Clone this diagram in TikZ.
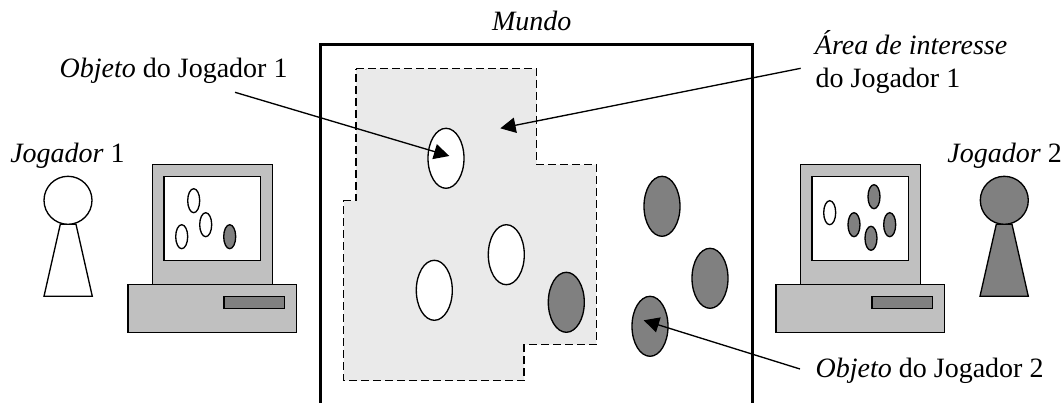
\documentclass[tikz,border=0pt]{standalone}
\usepackage{fontspec}
\setmainfont{Liberation Serif}
\usetikzlibrary{arrows.meta,shapes.geometric}
\definecolor{boxgray}{HTML}{C0C0C0}
\definecolor{objgray}{HTML}{808080}
\definecolor{areagray}{HTML}{EAEAEA}
\tikzstyle{obj}=[shape=ellipse,
                draw=black,
                line width=1pt,
                inner sep=0pt,
                minimum width=27pt,
                minimum height=45pt]
\tikzstyle{mini}=[shape=ellipse,
                draw=black,
                line width=1pt,
                inner sep=0pt,
                minimum width=9pt,
                minimum height=18pt]
\tikzstyle{part}=[shape=rectangle,
                draw=black,
                line width=1pt,
                fill=boxgray,
                inner sep=0pt]
\tikzstyle{head}=[shape=circle,
                draw=black,
                line width=1pt,
                inner sep=0pt,
                minimum size=36pt]
\tikzstyle{lbl}=[anchor=base west,inner sep=0pt,font=\fontsize{21pt}{24.5pt}\selectfont]
\tikzstyle{pawn}=[draw=black,line width=1pt]

\begin{document}
\begin{tikzpicture}[x=0.75pt,y=-0.75pt,>={Triangle[length=11.5pt,width=11.5pt]},line width=1pt]
\useasboundingbox (0,0) rectangle (1064,403);

% world and area of interest
\draw[line width=2.3pt] (320.5,403) -- (320.5,44.7) -- (752.7,44.7) -- (752.7,403);
\draw[fill=areagray,dash pattern=on 6pt off 3pt] (356,68.7) -- (536.7,68.7) -- (536.7,164.7) -- (596.3,164.7)
  -- (596.3,344.7) -- (524,344.7) -- (524,380.7) -- (343.7,380.7) -- (343.7,200.7) -- (356,200.7) -- cycle;

% objects
\node[obj,fill=white] (o1) at (446,158.3) {};
\node[obj,fill=white] (o2) at (506.3,254.7) {};
\node[obj,fill=white] (o3) at (434.3,290.3) {};
\node[obj,fill=objgray] (o4) at (566.3,302.3) {};
\node[obj,fill=objgray] (o5) at (662,206.3) {};
\node[obj,fill=objgray] (o6) at (710,278.3) {};
\node[obj,fill=objgray] (o7) at (650,326.3) {};

% player 1
\node[lbl] (j1) at (9.6,162.5) {\textit{Jogador} 1};
\draw[pawn] (60.3,224.3) -- (76,224.3) -- (92.3,296.3) -- (44,296.3) -- cycle;
\node[head,fill=white] (h1) at (68,200.3) {};

% computer 1
\node[part,minimum width=90pt,minimum height=90pt] (m1) at (212.3,224.3) {};
\node[part,fill=white,minimum width=72.2pt,minimum height=63pt] (s1) at (212.2,218.7) {};
\node[part,minimum width=126.2pt,minimum height=36pt] (b1) at (212.2,308.3) {};
\node[part,fill=objgray,minimum width=45.2pt,minimum height=9pt] (d1) at (254.2,302.7) {};
\node[mini,fill=white] (a1) at (193.7,200.7) {};
\node[mini,fill=white] (a2) at (205.7,224.7) {};
\node[mini,fill=white] (a3) at (181.7,236.7) {};
\node[mini,fill=objgray] (a4) at (229.7,236.7) {};

% player 2
\node[lbl] (j2) at (946.7,162.5) {\textit{Jogador} 2};
\draw[pawn,fill=objgray] (996.3,224.3) -- (1012,224.3) -- (1028.3,296.3) -- (980,296.3) -- cycle;
\node[head,fill=objgray] (h2) at (1004.3,200.3) {};

% computer 2
\node[part,minimum width=90pt,minimum height=90pt] (m2) at (860.3,224.3) {};
\node[part,fill=white,minimum width=72.2pt,minimum height=63pt] (s2) at (860.2,218.7) {};
\node[part,minimum width=126.2pt,minimum height=36pt] (b2) at (860.2,308.3) {};
\node[part,fill=objgray,minimum width=45.2pt,minimum height=9pt] (d2) at (902.2,302.7) {};
\node[mini,fill=white] (c1) at (829.7,212.7) {};
\node[mini,fill=objgray] (c2) at (874,196.7) {};
\node[mini,fill=objgray] (c3) at (854,224.7) {};
\node[mini,fill=objgray] (c4) at (871,238.3) {};
\node[mini,fill=objgray] (c5) at (889.7,224.7) {};

% labels
\node[lbl] (mundo) at (491.5,31) {\textit{Mundo}};
\node[lbl] (lo1) at (59,78) {\textit{Objeto} do Jogador 1};
\node[lbl] (la1) at (814.3,55) {\textit{Área de interesse}};
\node[lbl] (la2) at (815,87.7) {do Jogador 1};
\node[lbl] (lo2) at (815,377) {\textit{Objeto} do Jogador 2};

% arrow ends
\coordinate (t1) at (449.3,156);
\coordinate (t2) at (500.3,128.3);
\coordinate (t3) at (643.7,320.3);
\coordinate (f1) at (235,92.3);
\coordinate (f2) at (800.7,68.3);
\coordinate (f3) at (800,369);

% arrows
\path[->] (f1) edge (t1);
\path[->] (f2) edge (t2);
\path[->] (f3) edge (t3);

\end{tikzpicture}
\end{document}
